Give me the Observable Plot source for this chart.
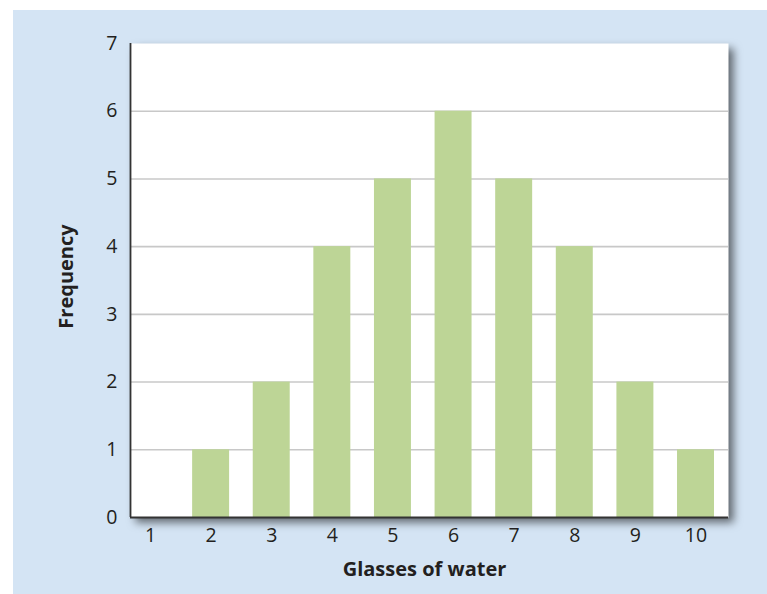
<!DOCTYPE html>
<html>
<head>
<meta charset="utf-8">
<script src="https://cdn.jsdelivr.net/npm/d3@7"></script>
<script src="https://cdn.jsdelivr.net/npm/@observablehq/plot@0.6"></script>
<style>
  html, body { margin: 0; padding: 0; background: #ffffff; }
  #wrap { position: relative; width: 767px; height: 594px; overflow: hidden; }
  #panel { position: absolute; left: 13px; top: 10px; right: 0; bottom: 0; background: #d4e4f4; }
  #chart { position: absolute; left: 0; top: 0; }
  #chart svg { background: transparent; overflow: visible; }
  #chart svg g[aria-label$="tick label"] { font-size: 19.5px; }
</style>
</head>
<body>
<div id="wrap"><div id="panel"></div><div id="chart"></div></div>
<script>
const glasses = [1, 2, 3, 4, 5, 6, 7, 8, 9, 10];
const frequency = [0, 1, 2, 4, 5, 6, 5, 4, 2, 1];
const yTicks = [0, 1, 2, 3, 4, 5, 6, 7];
const gridValues = [1, 2, 3, 4, 5, 6];
const xTitle = "Glasses of water";
const yTitle = "Frequency";

const xDomain = [0.67, 10.536];
const halfBar = 0.305;
const data = glasses.map((g, i) => ({g, f: frequency[i]}));

const ink = "#231f20";
const chart = Plot.plot({
  width: 767,
  height: 594,
  marginLeft: 130,
  marginRight: 39,
  marginTop: 43,
  marginBottom: 77,
  style: {fontFamily: "'Open Sans', sans-serif", fontSize: "20px", color: ink, background: "transparent"},
  x: {domain: xDomain, ticks: glasses, tickFormat: d => String(d)},
  y: {domain: [0, 7], ticks: yTicks, tickFormat: d => String(d)},
  marks: [
    Plot.frame({fill: "white", stroke: null}),
    Plot.gridY(gridValues, {stroke: "#c8c8c8", strokeOpacity: 1, strokeWidth: 1.6}),
    Plot.rectY(data, {x1: d => d.g - halfBar, x2: d => d.g + halfBar, y: "f", fill: "#bdd596"}),
    Plot.ruleX([xDomain[0]], {stroke: "#333", strokeWidth: 1.8}),
    Plot.ruleY([0], {stroke: "#333", strokeWidth: 1.8}),
    Plot.axisX({ticks: glasses, tickSize: 0, tickPadding: 11, label: null, fontSize: 19.5, fill: ink, tickFormat: d => String(d)}),
    Plot.axisY({ticks: yTicks, tickSize: 0, tickPadding: 13, label: null, fontSize: 19.5, fill: ink, tickFormat: d => String(d)}),
    Plot.text([xTitle], {frameAnchor: "bottom", text: d => d, dx: -5, dy: 52, lineAnchor: "middle", textAnchor: "middle", fontWeight: "bold", fontSize: 20, fill: ink}),
    Plot.text([yTitle], {frameAnchor: "left", text: d => d, dx: -64, dy: -4, rotate: -90, lineAnchor: "middle", textAnchor: "middle", fontWeight: "bold", fontSize: 20, fill: ink})
  ]
});
document.getElementById("chart").appendChild(chart);
d3.select(chart).select("[aria-label=frame]").style("filter", "drop-shadow(5px 5px 4px rgba(0,0,0,0.55))");
d3.select(chart).selectAll("g[aria-label$='tick label']").attr("font-size", 19.5).style("font-size", "19.5px");
</script>
</body>
</html>
